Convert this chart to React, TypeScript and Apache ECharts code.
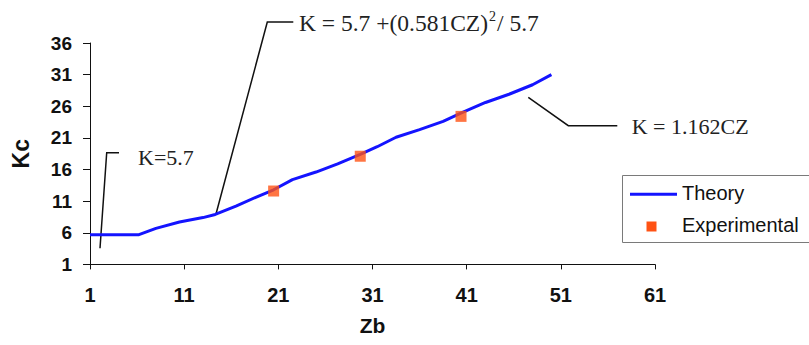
import React, { useEffect, useRef } from "react";
import * as echarts from "echarts";

// ---- data ----
const theoryZ = [1, 6.2, 8, 10.5, 13, 14.3, 16.5, 18.6, 20.5, 22.5, 25, 27.3, 29.7, 31.5, 33.5, 36, 38.5, 40.5, 43, 45.5, 48, 50];
const theoryK = [5.7, 5.7, 6.7, 7.7, 8.4, 8.9, 10.2, 11.6, 12.8, 14.4, 15.6, 16.9, 18.4, 19.6, 21.1, 22.3, 23.6, 25.0, 26.6, 27.9, 29.4, 31.0];
const expZ = [20.5, 29.7, 40.4];
const expK = [12.6, 18.1, 24.4];
const seriesNames = ["Theory", "Experimental"];
const axisNames = { x: "Zb", y: "Kc" };
const xRange = { min: 1, max: 61, step: 10 };
const yRange = { min: 1, max: 36, step: 5 };
const annotationTexts = ["K=5.7", "{m|K = 5.7 +(0.581CZ)}{s|2}{m|/ 5.7}", "K = 1.162CZ"];

// ---- styles / layout ----
const BLUE = "#1414ff";
const ORANGE = "#ff5214";
const SERIF = "'Liberation Serif', 'Times New Roman', serif";
const SANS = "'Liberation Sans', Arial, sans-serif";

export default function App() {
  const ref = useRef<HTMLDivElement>(null);

  useEffect(() => {
    if (!ref.current) return;
    const chart = echarts.init(ref.current, undefined, { renderer: "svg" });

    const leader = (pts: number[][]) => ({
      type: "polyline",
      shape: { points: pts },
      style: { stroke: "#111", lineWidth: 1.5, fill: "none" },
      silent: true,
    });
    const note = (x: number, y: number, text: string, size = 22) => ({
      type: "text",
      x,
      y,
      style: {
        text,
        fill: "#222",
        font: `${size}px ${SERIF}`,
        verticalAlign: "middle",
        align: "left",
        rich: {
          m: { fontFamily: SERIF, fontSize: 23.5, color: "#222", lineHeight: 26, verticalAlign: "bottom" },
          s: { fontFamily: SERIF, fontSize: 14, color: "#222", lineHeight: 26, verticalAlign: "top", padding: [1, 1, 0, 1] },
        },
      },
      silent: true,
    });

    chart.setOption({
      animation: false,
      backgroundColor: "#ffffff",
      grid: { left: 90, top: 43, width: 565, height: 221.4, containLabel: false },
      xAxis: {
        type: "value",
        min: xRange.min,
        max: xRange.max,
        interval: xRange.step,
        name: axisNames.x,
        nameLocation: "middle",
        nameGap: 51,
        nameTextStyle: { fontFamily: SANS, fontWeight: "bold", fontSize: 21, color: "#111" },
        axisLine: { show: true, onZero: false, lineStyle: { color: "#111", width: 1 } },
        axisTick: { show: true, inside: false, length: 5, lineStyle: { color: "#111" } },
        axisLabel: { fontFamily: SANS, fontWeight: "bold", fontSize: 20, color: "#111", margin: 21 },
        splitLine: { show: false },
      },
      yAxis: {
        type: "value",
        min: yRange.min,
        max: yRange.max,
        interval: yRange.step,
        name: axisNames.y,
        nameLocation: "middle",
        nameGap: 58,
        nameTextStyle: { fontFamily: SANS, fontWeight: "bold", fontSize: 23, color: "#111" },
        axisLine: { show: true, onZero: false, lineStyle: { color: "#111", width: 1 } },
        axisTick: { show: true, inside: false, length: 7, lineStyle: { color: "#111" } },
        axisLabel: { fontFamily: SANS, fontWeight: "bold", fontSize: 19, color: "#111", margin: 18 },
        splitLine: { show: false },
      },
      series: [
        {
          name: seriesNames[0],
          type: "line",
          data: theoryZ.map((z, i) => [z, theoryK[i]]),
          showSymbol: false,
          lineStyle: { color: BLUE, width: 3 },
          itemStyle: { color: BLUE },
          z: 2,
        },
        {
          name: seriesNames[1],
          type: "scatter",
          data: expZ.map((z, i) => [z, expK[i]]),
          symbol: "rect",
          symbolSize: 11,
          itemStyle: { color: ORANGE },
          z: 3,
        },
      ],
      graphic: [
        leader([[100, 248.3], [106.7, 152.7], [119, 152.7]]),
        note(138, 157, annotationTexts[0]),
        leader([[216, 214], [267.3, 22], [293.3, 22]]),
        note(299, 21.5, annotationTexts[1]),
        leader([[528.3, 97.3], [568.3, 125.7], [617.3, 125.7]]),
        note(631.7, 126, annotationTexts[2]),
        // legend
        {
          type: "rect",
          shape: { x: 622.5, y: 175.5, width: 220, height: 67 },
          style: { fill: "#fff", stroke: "#7a7a7a", lineWidth: 1 },
          silent: true,
        },
        {
          type: "line",
          shape: { x1: 630, y1: 194.3, x2: 677, y2: 194.3 },
          style: { stroke: BLUE, lineWidth: 3 },
          silent: true,
        },
        {
          type: "rect",
          shape: { x: 646.5, y: 221.5, width: 10, height: 10 },
          style: { fill: ORANGE },
          silent: true,
        },
        {
          type: "text",
          x: 682,
          y: 192.5,
          style: { text: seriesNames[0], fill: "#111", font: `20px ${SANS}`, verticalAlign: "middle" },
          silent: true,
        },
        {
          type: "text",
          x: 682,
          y: 225,
          style: { text: seriesNames[1], fill: "#111", font: `20px ${SANS}`, verticalAlign: "middle" },
          silent: true,
        },
      ],
    });

    return () => chart.dispose();
  }, []);

  return (
    <div
      ref={ref}
      style={{ position: "fixed", left: 0, top: 0, width: 809, height: 345, background: "#fff" }}
    />
  );
}
